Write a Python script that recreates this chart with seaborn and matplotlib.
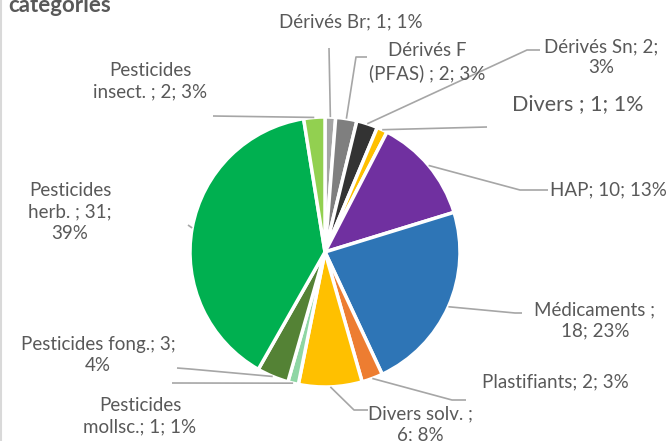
import numpy as np
import matplotlib
matplotlib.use("Agg")
import matplotlib.pyplot as plt
import seaborn as sns

# ---- data ----
categories = ["Dérivés Br", "Dérivés F (PFAS)", "Dérivés Sn", "Divers", "HAP", "Médicaments",
              "Plastifiants", "Divers solv.", "Pesticides mollsc.", "Pesticides fong.",
              "Pesticides herb.", "Pesticides insect."]
values = [1, 2, 2, 1, 10, 18, 2, 6, 1, 3, 31, 2]
label_texts = ["Dérivés Br; 1; 1%", "Dérivés F\n(PFAS) ; 2; 3%", "Dérivés Sn; 2;\n3%",
               "Divers ; 1; 1%", "HAP; 10; 13%", "Médicaments ;\n18; 23%",
               "Plastifiants; 2; 3%", "Divers solv. ;\n6; 8%", "Pesticides\nmollsc.; 1; 1%",
               "Pesticides fong.; 3;\n4%", "Pesticides\nherb. ; 31;\n39%", "Pesticides\ninsect. ; 2; 3%"]
colors = ["#A5A5A5", "#7F7F7F", "#333333", "#FFC000", "#7030A0", "#2E75B6",
          "#ED7D31", "#FFC000", "#8ED6A4", "#548235", "#00B050", "#92D050"]

# ---- layout (pixel coords, y from top) ----
W, H = 670, 441
center = (325, 252)
radius = 135
text_pos = [(351, 22), (427, 62), (601, 57), (578, 104), (608, 190), (595, 320),
            (555, 382), (420, 424), (140, 416), (98, 355), (70, 212), (150, 81)]
text_size = [13.5, 13.5, 13.5, 15.5, 13.5, 13.5, 13.5, 13.5, 13.5, 13.5, 13.5, 13.5]
elbows = [[(329, 48)], [(356, 57), (367, 57)], [(527, 50), (540, 50)], [(487, 127)],
          [(520, 190), (548, 190)], [(515, 313), (522, 313)], [(452, 400), (466, 400)],
          [(354, 410), (368, 410)], [(172, 383)], [(190, 369), (177, 368)],
          [(188, 225)], [(213, 116)]]

sns.set_theme(style="white")
plt.rcParams['font.family'] = ['Lato', 'DejaVu Sans']

fig = plt.figure(figsize=(W / 100, H / 100), dpi=100)
ax = fig.add_axes([0, 0, 1, 1])
ax.set_xlim(0, W)
ax.set_ylim(0, H)
ax.axis('off')

wedges, _ = ax.pie(values, colors=colors, startangle=90, counterclock=False,
                   center=(center[0], H - center[1]), radius=radius,
                   wedgeprops=dict(edgecolor="white", linewidth=2.5))
ax.set_xlim(0, W)
ax.set_ylim(0, H)
ax.set_aspect('equal')

txtc = "#595959"
linec = "#A6A6A6"
for w, t, pos, fs, el in zip(wedges, label_texts, text_pos, text_size, elbows):
    mid = np.deg2rad((w.theta1 + w.theta2) / 2)
    ex = w.center[0] + w.r * np.cos(mid)
    ey = w.center[1] + w.r * np.sin(mid)
    xs = [ex] + [p[0] for p in el]
    ys = [ey] + [H - p[1] for p in el]
    ax.plot(xs, ys, color=linec, lw=1.2, solid_capstyle='butt', zorder=1)
    ax.text(pos[0], H - pos[1], t, ha='center', va='center', fontsize=fs,
            color=txtc, linespacing=1.3, zorder=3)

fig.text(8 / W, 1 - 12 / H, "categories", fontsize=16, fontweight='bold', color=txtc,
         ha='left', va='baseline')
ax.plot([1, 1], [0, H], color="#D9D9D9", lw=1.5)

fig.savefig("out.png", dpi=100, facecolor="white")
